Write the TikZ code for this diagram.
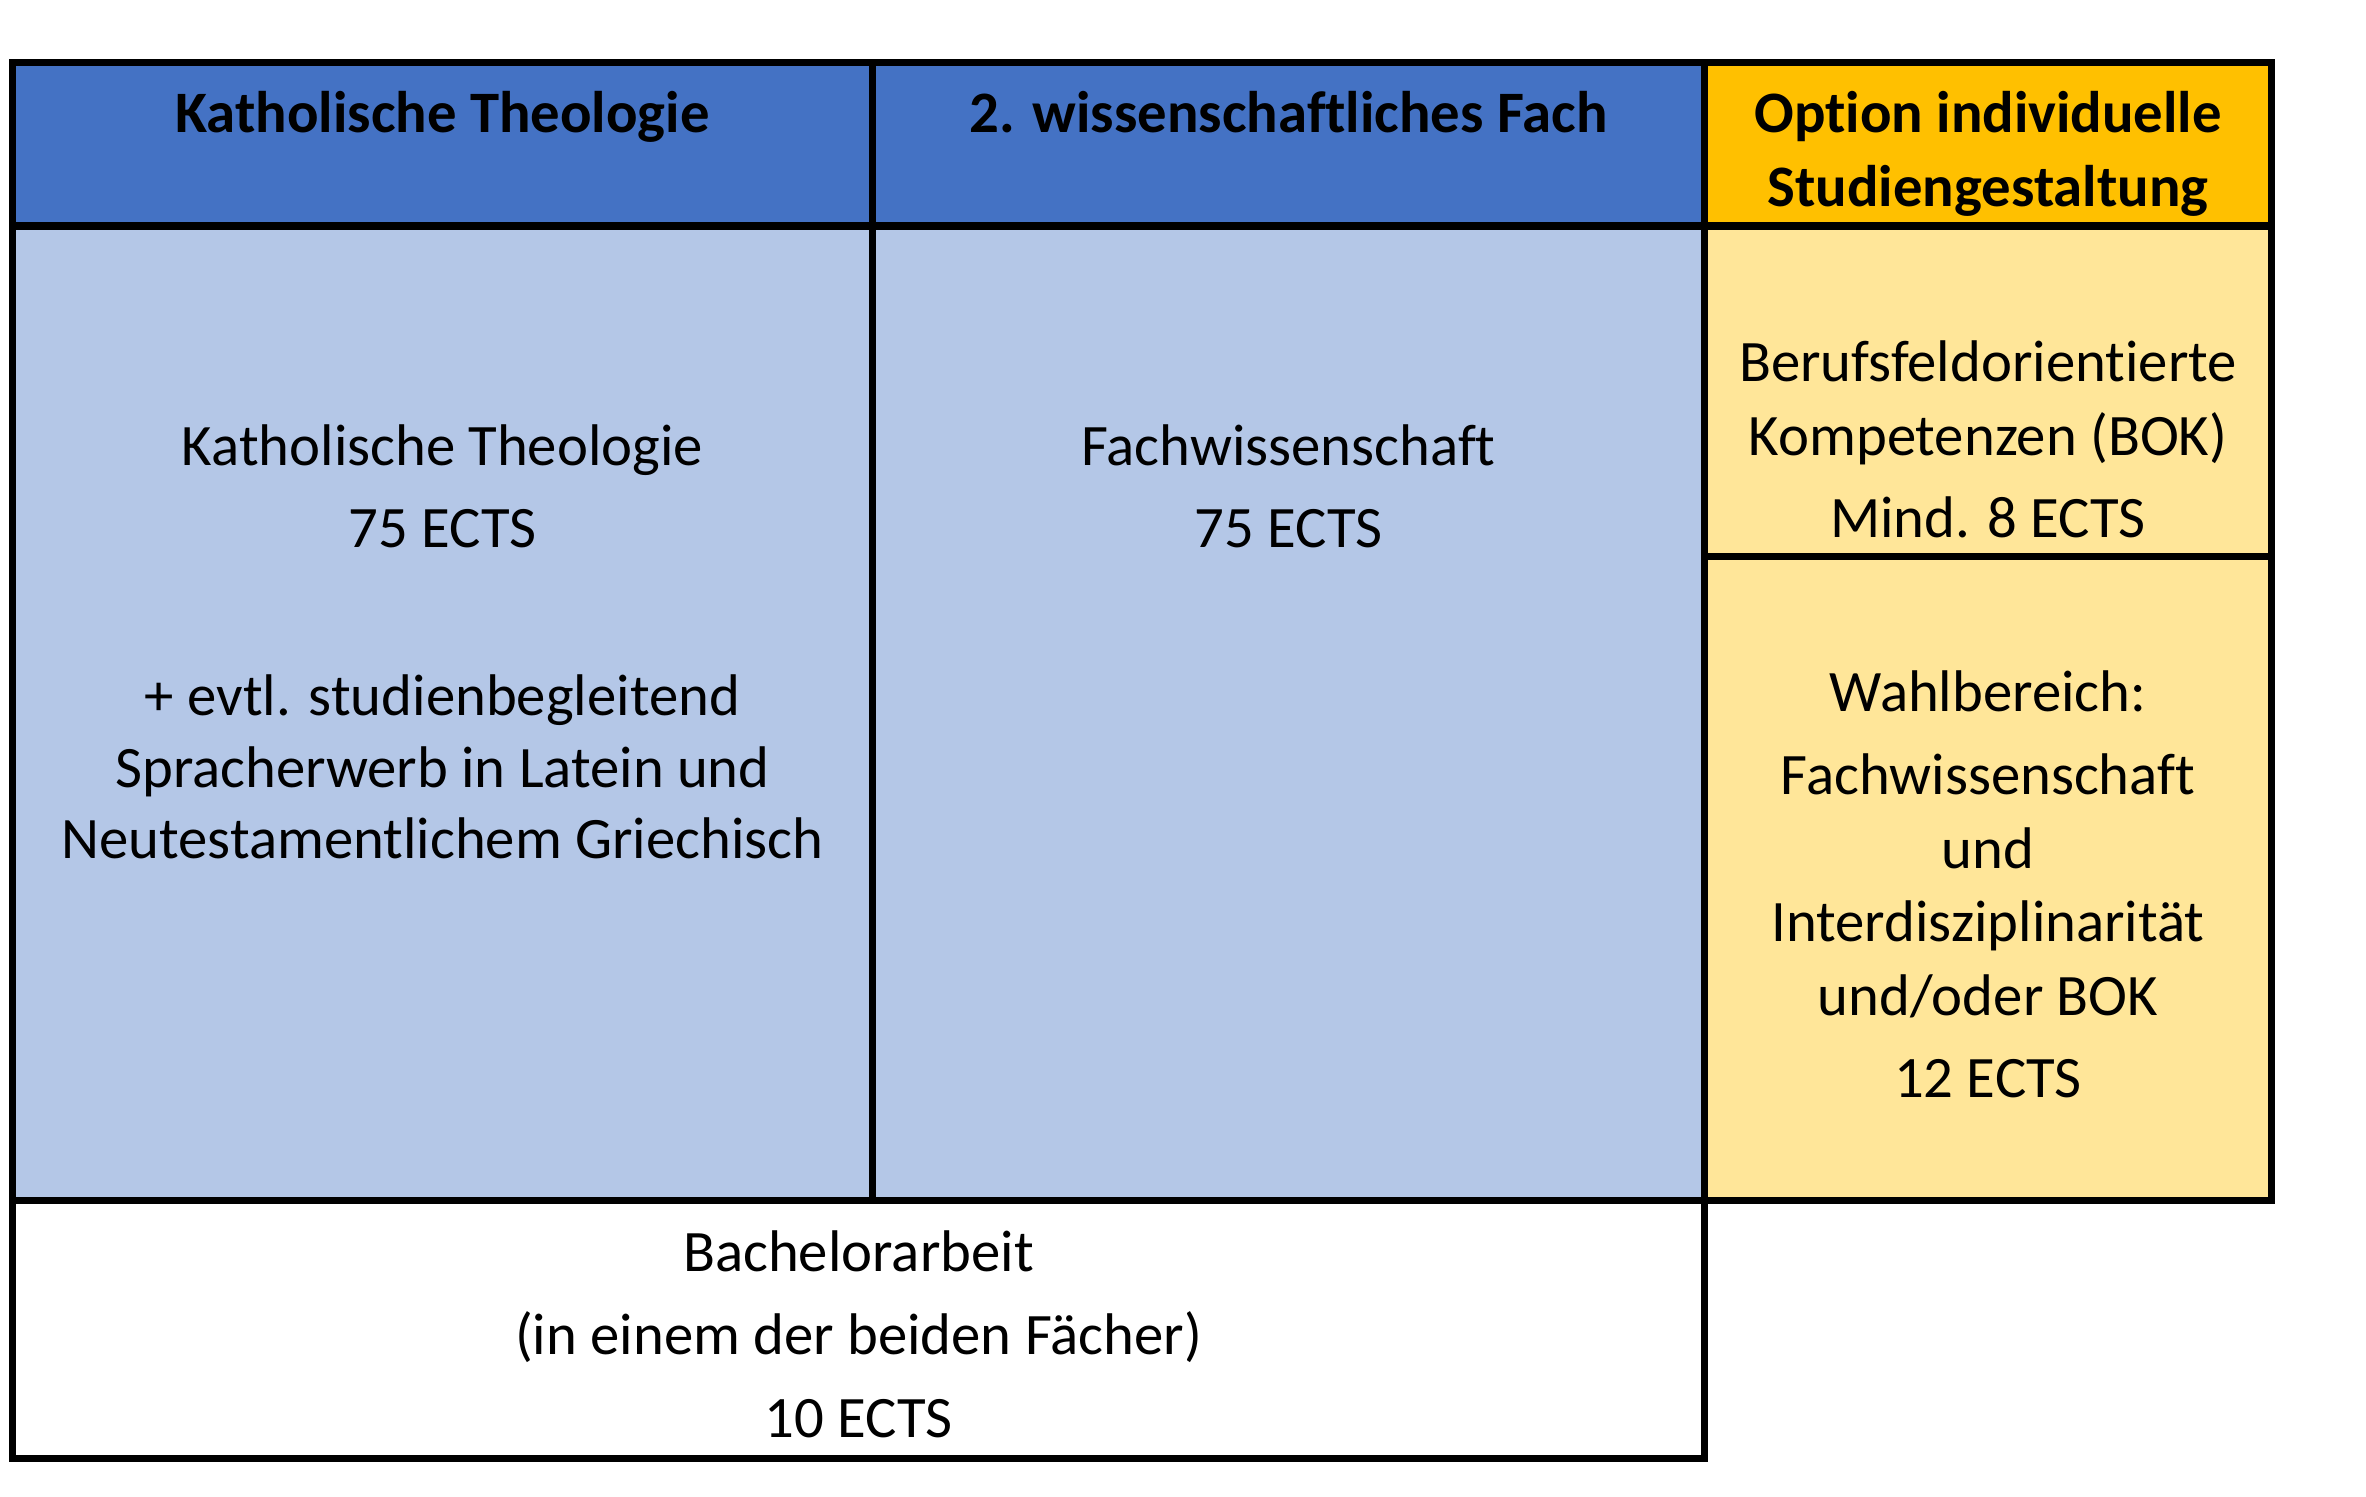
\documentclass[tikz,border=0pt]{standalone}
\usepackage{fontspec}
\setmainfont{Carlito}[Ligatures={NoCommon}]
\definecolor{hdrblue}{HTML}{4472C4}
\definecolor{bodyblue}{HTML}{B4C7E7}
\definecolor{hdrorange}{HTML}{FFC000}
\definecolor{bodyyellow}{HTML}{FFE699}
\newcommand\cellfont{\fontsize{16.7}{20}\selectfont}
\tikzset{
  cell/.style={draw=black, line width=0.07cm, line join=miter},
  txt/.style={anchor=base, inner sep=0pt, font=\cellfont},
  hdrtxt/.style={txt, font=\cellfont\bfseries}
}
\begin{document}
\begin{tikzpicture}[x=0.01cm, y=-0.01cm]
\useasboundingbox (0,0) rectangle (2366,1497);
% cells
\draw[cell, fill=hdrblue]    (12.5,62.5)   rectangle (872.5,226);
\draw[cell, fill=hdrblue]    (872.5,62.5)  rectangle (1704.5,226);
\draw[cell, fill=hdrorange]  (1704.5,62.5) rectangle (2271.5,226);
\draw[cell, fill=bodyblue]   (12.5,226)    rectangle (872.5,1200.5);
\draw[cell, fill=bodyblue]   (872.5,226)   rectangle (1704.5,1200.5);
\draw[cell, fill=bodyyellow] (1704.5,226)  rectangle (2271.5,556.5);
\draw[cell, fill=bodyyellow] (1704.5,556.5) rectangle (2271.5,1200.5);
\draw[cell, fill=white]      (12.5,1200.5) rectangle (1704.5,1458.5);
% header texts
\node[hdrtxt] (h1) at (442.5,133) {Katholische Theologie};
\node[hdrtxt] (h2) at (1288.5,133) {2. wissenschaftliches Fach};
\node[hdrtxt] (h3a) at (1988,133) {Option individuelle};
\node[hdrtxt] (h3b) at (1988,207) {Studiengestaltung};
% column 1
\node[txt] (k1) at (442.5,465) {Katholische Theologie};
\node[txt] (k2) at (442.5,547) {75 ECTS};
\node[txt] (k3) at (442.5,715) {+ evtl. studienbegleitend};
\node[txt] (k4) at (442.5,787) {Spracherwerb in Latein und};
\node[txt] (k5) at (442.5,858) {Neutestamentlichem Griechisch};
% column 2
\node[txt] (f1) at (1288.5,465) {Fachwissenschaft};
\node[txt] (f2) at (1288.5,547) {75 ECTS};
% column 3
\node[txt] (b1) at (1988,381) {Berufsfeldorientierte};
\node[txt] (b2) at (1988,455) {Kompetenzen (BOK)};
\node[txt] (b3) at (1988,537) {Mind. 8 ECTS};
\node[txt] (w1) at (1988,711) {Wahlbereich:};
\node[txt] (w2) at (1988,794) {Fachwissenschaft};
\node[txt] (w3) at (1988,868) {und};
\node[txt] (w4) at (1988,941) {Interdisziplinarität};
\node[txt] (w5) at (1988,1015) {und/oder BOK};
\node[txt] (w6) at (1988,1097) {12 ECTS};
% bachelor
\node[txt] (a1) at (858.5,1271) {Bachelorarbeit};
\node[txt] (a2) at (858.5,1354) {(in einem der beiden Fächer)};
\node[txt] (a3) at (858.5,1437) {10 ECTS};
\end{tikzpicture}
\end{document}
